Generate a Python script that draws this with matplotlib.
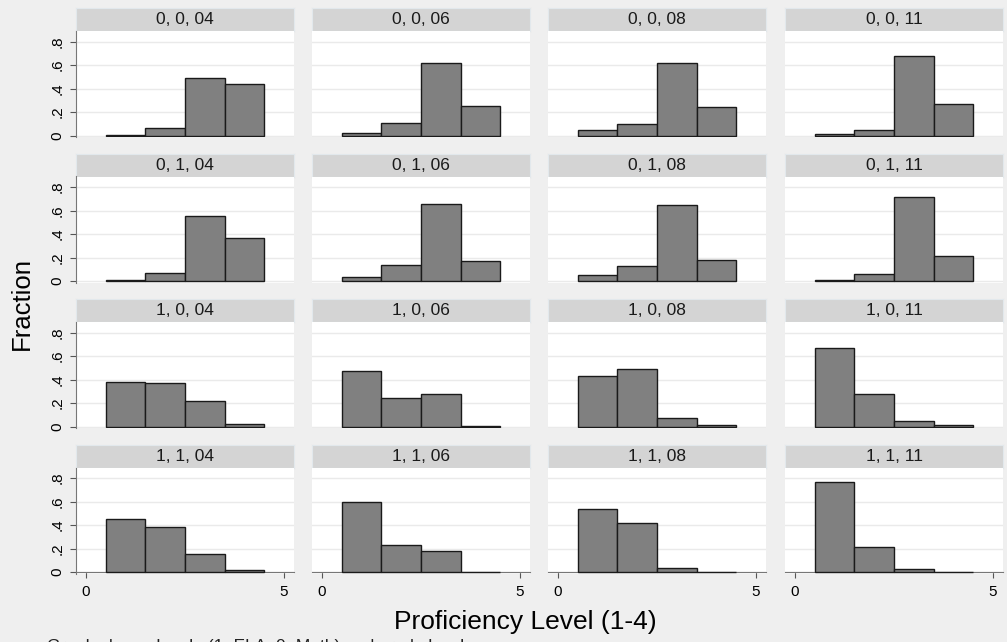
"""Stata-style grid of proficiency-level histograms, by male, subject and grade."""
import matplotlib.pyplot as plt

plt.rcParams["font.family"] = ["Liberation Sans", "DejaVu Sans"]

levels = [1, 2, 3, 4]
panel_titles = [
    "0, 0, 04", "0, 0, 06", "0, 0, 08", "0, 0, 11",
    "0, 1, 04", "0, 1, 06", "0, 1, 08", "0, 1, 11",
    "1, 0, 04", "1, 0, 06", "1, 0, 08", "1, 0, 11",
    "1, 1, 04", "1, 1, 06", "1, 1, 08", "1, 1, 11",
]
fractions = [
    [0.008, 0.062, 0.49, 0.44],
    [0.026, 0.105, 0.62, 0.25],
    [0.045, 0.10, 0.62, 0.24],
    [0.012, 0.05, 0.675, 0.265],
    [0.01, 0.07, 0.55, 0.37],
    [0.038, 0.135, 0.66, 0.17],
    [0.05, 0.13, 0.65, 0.18],
    [0.012, 0.06, 0.715, 0.215],
    [0.38, 0.375, 0.22, 0.025],
    [0.475, 0.245, 0.28, 0.005],
    [0.43, 0.49, 0.07, 0.01],
    [0.67, 0.28, 0.05, 0.01],
    [0.455, 0.38, 0.155, 0.015],
    [0.595, 0.23, 0.18, 0.005],
    [0.54, 0.42, 0.035, 0.005],
    [0.765, 0.21, 0.025, 0.005],
]
y_ticks = [0, 0.2, 0.4, 0.6, 0.8]
y_tick_labels = ["0", ".2", ".4", ".6", ".8"]
x_ticks = [0, 5]

W, H = 1007, 642
BG = "#efefef"

fig = plt.figure(figsize=(W / 100, H / 100), dpi=100, facecolor=BG)


def px_rect(x, y, w, h):
    return [x / W, 1 - (y + h) / H, w / W, h / H]


col_left = [76, 312, 548, 785]
row_top = [8, 153.5, 299, 444.5]
panel_w = 218
strip_h = 23
plot_h = 106

for i, (title, vals) in enumerate(zip(panel_titles, fractions)):
    r, c = divmod(i, 4)
    x0, y0 = col_left[c], row_top[r]

    strip = fig.add_axes(px_rect(x0, y0, panel_w, strip_h))
    strip.set_facecolor("#d4d4d4")
    strip.set_xticks([])
    strip.set_yticks([])
    for s in strip.spines.values():
        s.set_color("#e2e8ec")
        s.set_linewidth(0.8)
    strip.text(0.5, 0.48, title, ha="center", va="center", fontsize=12.5, color="#1a1a1a")

    ax = fig.add_axes(px_rect(x0, y0 + strip_h, panel_w, plot_h))
    ax.set_facecolor("white")
    ax.bar(levels, vals, width=1.0, color="#808080", edgecolor="#1a1a1a", linewidth=1.0, zorder=3)
    ax.set_xlim(-0.25, 5.25)
    ax.set_ylim(-0.012, 0.89)
    ax.set_yticks(y_ticks)
    ax.grid(axis="y", color="#eaeaea", linewidth=1.0, zorder=0)
    ax.set_axisbelow(True)
    for s in ax.spines.values():
        s.set_visible(False)

    if c == 0:
        ax.spines["left"].set_visible(True)
        ax.spines["left"].set_color("#777777")
        ax.set_yticklabels(y_tick_labels, rotation=90, va="center", fontsize=11)
        ax.tick_params(axis="y", length=4.5, color="#555555", pad=4)
    else:
        ax.tick_params(axis="y", length=0, labelleft=False)

    if r == 3:
        ax.spines["bottom"].set_visible(True)
        ax.spines["bottom"].set_color("#777777")
        ax.spines["bottom"].set_position(("data", 0))
        ax.set_xticks(x_ticks)
        ax.set_xticklabels([str(t) for t in x_ticks], fontsize=11)
        ax.tick_params(axis="x", length=4.5, color="#555555", pad=5)
    else:
        ax.set_xticks([])

fig.text(22 / W, 1 - 303 / H, "Fraction", rotation=90, ha="center", va="center", fontsize=18.5)
fig.text(525 / W, 1 - 629 / H, "Proficiency Level (1-4)", ha="center", va="baseline", fontsize=19)
# the note sits at the very bottom edge and is clipped, as in the original export
fig.text(47 / W, 1 - 651 / H, "Graphs by male, ela (1=ELA, 0=Math) and grade level",
         ha="left", va="baseline", fontsize=12.5, color="#222222")

fig.savefig("out.png", dpi=100, facecolor=BG)
